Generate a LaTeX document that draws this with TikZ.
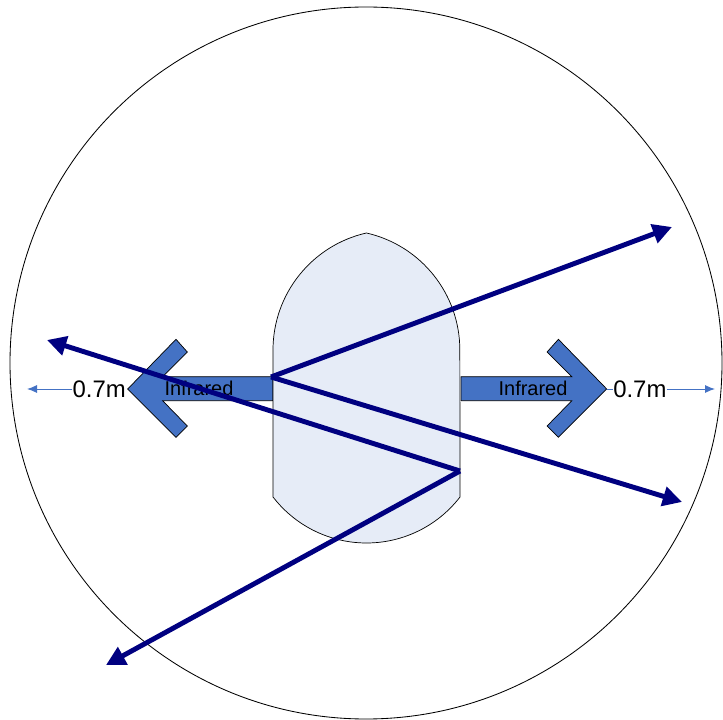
\documentclass[tikz,border=0pt]{standalone}
\usepackage{fontspec}
\setmainfont{Liberation Sans}
\usetikzlibrary{arrows.meta}

\definecolor{irblue}{HTML}{4472C4}
\definecolor{bodyfill}{HTML}{E6ECF7}
\definecolor{raynavy}{HTML}{000080}

\tikzset{
  irarrow/.style={fill=irblue,draw=black,line width=0.5pt},
  robot/.style={fill=bodyfill,draw=black,line width=0.5pt},
  rayarrow/.style={draw=raynavy,line width=3.5pt,-{Triangle[length=4.8mm,width=4.8mm]}},
  rangeline/.style={draw=irblue,line width=0.7pt,-{Latex[length=2.5mm,width=2mm]}},
  irtext/.style={inner sep=0pt,font=\fontsize{14.2}{16}\selectfont},
  rangetext/.style={inner sep=0pt,font=\fontsize{17}{19}\selectfont},
}

\begin{document}
\begin{tikzpicture}[x=0.025cm,y=-0.025cm]
  \useasboundingbox (0,0) rectangle (723,720);
  % detection range
  \draw[line width=0.6pt] (366,363) circle (356);
  % infrared sensors
  \draw[irarrow] (273,376.7) -- (162.6,376.7) -- (187.3,352) -- (176,339.3)
    -- (127.7,389) -- (176,437.3) -- (187.3,426) -- (162.6,400.7)
    -- (273,400.7) -- cycle;
  \draw[irarrow] (461,376.7) -- (571.8,376.7) -- (547.1,352) -- (558.4,339.3)
    -- (606.7,389) -- (558.4,437.3) -- (547.1,426) -- (571.8,400.7)
    -- (461,400.7) -- cycle;
  % robot body
  \draw[robot] (273,497) -- (273,350)
    arc[start angle=180,end angle=257.2,radius=120]
    arc[start angle=282.8,end angle=360,radius=120]
    -- (460,497)
    arc[start angle=37.6,end angle=142.4,radius=118] -- cycle;
  % labels
  \node[irtext] (irL) at (199,388) {Infrared};
  \node[irtext] (irR) at (533,388) {Infrared};
  \coordinate (tipL) at (127.7,389);
  \coordinate (tipR) at (606.7,389);
  \coordinate (endL) at (27,389);
  \coordinate (endR) at (715,389);
  \node[rangetext,anchor=east] (distL) at (126,389) {0.7m};
  \node[rangetext,anchor=west] (distR) at (613,389) {0.7m};
  \draw[irblue,line width=0.7pt] (tipR) -- (distR.west);
  \draw[rangeline] (distL.west) -- (endL);
  \draw[rangeline] (distR.east) -- (endR);
  % reflected rays
  \coordinate (hitA) at (271,377);
  \coordinate (hitB) at (460,471);
  \coordinate (outA1) at (672,227);
  \coordinate (outA2) at (682,502);
  \coordinate (outB1) at (47,340);
  \coordinate (outB2) at (106,665);
  \draw[rayarrow] (hitA) -- (outA1);
  \draw[rayarrow] (hitA) -- (outA2);
  \draw[rayarrow] (hitB) -- (outB1);
  \draw[rayarrow] (hitB) -- (outB2);
\end{tikzpicture}
\end{document}
